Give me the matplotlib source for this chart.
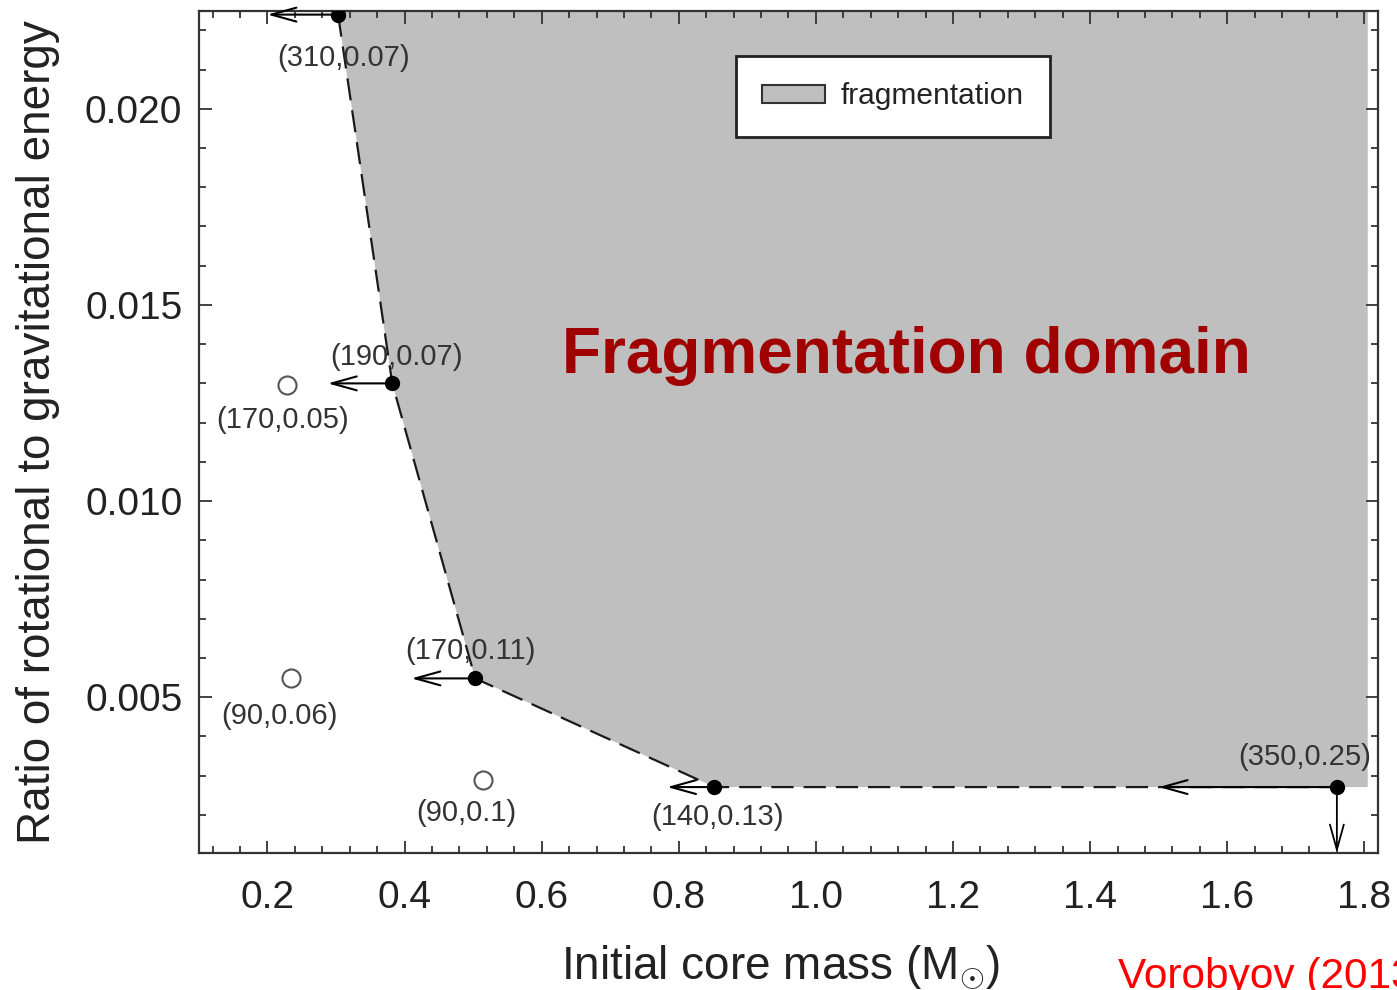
import matplotlib
matplotlib.use('Agg')
import matplotlib.pyplot as plt
from matplotlib import ticker
from matplotlib.patches import Patch

plt.rcParams['font.family'] = ['Liberation Sans', 'DejaVu Sans']
plt.rcParams['mathtext.fontset'] = 'custom'
plt.rcParams['mathtext.rm'] = 'Liberation Sans'

# models on the fragmentation boundary (filled) and non-fragmenting models (open)
boundary_mass = [0.303, 0.382, 0.503, 0.852, 1.760]
boundary_ratio = [0.0224, 0.0130, 0.00548, 0.00271, 0.00271]
boundary_labels = ['(310,0.07)', '(190,0.07)', '(170,0.11)', '(140,0.13)', '(350,0.25)']
arrow_tip_mass = [0.200, 0.288, 0.410, 0.783, 1.500]

stable_mass = [0.229, 0.235, 0.515]
stable_ratio = [0.01296, 0.00550, 0.00288]
stable_labels = ['(170,0.05)', '(90,0.06)', '(90,0.1)']

XMIN, XMAX = 0.1, 1.82
YMIN, YMAX = 0.00103, 0.0225
FILL_RIGHT = 1.805
GRAY = '#BFBFBF'

fig = plt.figure(figsize=(13.97, 9.9), dpi=100)
ax = fig.add_axes([0.1424, 0.1384, 0.8440, 0.8508])

# shaded domain: from the top edge down along the boundary, then out to the right
fill_x = [boundary_mass[0]] + boundary_mass + [FILL_RIGHT, FILL_RIGHT]
fill_y = [YMAX] + boundary_ratio + [boundary_ratio[-1], YMAX]
ax.fill(fill_x, fill_y, color=GRAY, lw=0, zorder=0)

ax.plot(boundary_mass, boundary_ratio, color='#1a1a1a', lw=1.6, ls=(0, (10, 4.5)), zorder=2)

arrow_style = '->,head_length=0.9,head_width=0.25'
for m, r, tip in zip(boundary_mass, boundary_ratio, arrow_tip_mass):
    ax.annotate('', xy=(tip, r), xytext=(m, r),
                arrowprops=dict(arrowstyle=arrow_style, lw=1.5, color='black',
                                shrinkA=0, shrinkB=0, mutation_scale=20), zorder=3)
# last model also only gives an upper limit on the energy ratio
ax.annotate('', xy=(boundary_mass[-1], YMIN), xytext=(boundary_mass[-1], boundary_ratio[-1]),
            arrowprops=dict(arrowstyle=arrow_style, lw=1.3, color='black',
                            shrinkA=0, shrinkB=0, mutation_scale=20), zorder=3)

ax.plot(boundary_mass, boundary_ratio, 'o', color='black', ms=10, zorder=4)
ax.plot(stable_mass, stable_ratio, 'o', mfc='none', mec='#555555', mew=1.5, ms=13, zorder=4)

boundary_offsets = [(4.3, -31), (2.9, 18.7), (-3.6, 19.4), (2.2, -21.6), (-23, 21.6)]
stable_offsets = [(-3.6, -25.2), (-8.6, -27.4), (-12.2, -23.8)]
for m, r, lab, off in zip(boundary_mass + stable_mass, boundary_ratio + stable_ratio,
                          boundary_labels + stable_labels, boundary_offsets + stable_offsets):
    ax.annotate(lab, xy=(m, r), xytext=off, textcoords='offset points',
                ha='center', va='center', fontsize=21, color='#333333', zorder=5)

ax.text(0.630, 0.01327, 'Fragmentation domain', fontsize=46, fontweight='bold',
        color='#A00000', ha='left', va='baseline', zorder=5)

leg = ax.legend(handles=[Patch(facecolor=GRAY, edgecolor='#333333', lw=1.5)],
                labels=['fragmentation'], loc='upper left',
                bbox_to_anchor=(0.4551, 0.9462), borderaxespad=0, fontsize=21.5,
                handlelength=2.1, handleheight=0.55, handletextpad=0.55,
                borderpad=0.88, fancybox=False, framealpha=1, edgecolor='#222222')
leg.get_frame().set_linewidth(2)
for t in leg.get_texts():
    t.set_color('#222222')

ax.set_xlim(XMIN, XMAX)
ax.set_ylim(YMIN, YMAX)
ax.xaxis.set_major_locator(ticker.MultipleLocator(0.2))
ax.xaxis.set_minor_locator(ticker.MultipleLocator(0.04))
ax.yaxis.set_major_locator(ticker.MultipleLocator(0.005))
ax.yaxis.set_minor_locator(ticker.MultipleLocator(0.001))
ax.xaxis.set_major_formatter(ticker.FormatStrFormatter('%.1f'))
ax.yaxis.set_major_formatter(ticker.FormatStrFormatter('%.3f'))

ax.tick_params(which='both', direction='in', top=True, right=True, color='#333333',
               width=1.3, labelsize=28, labelcolor='#222222')
ax.tick_params(which='major', length=9)
ax.tick_params(which='minor', length=5)
ax.tick_params(axis='x', pad=19.5)
ax.tick_params(axis='y', pad=12)
for s in ax.spines.values():
    s.set_color('#333333')
    s.set_linewidth(1.6)

ax.set_xlabel(r'Initial core mass (M$_{\odot}$)', fontsize=33, color='#222222')
ax.xaxis.set_label_coords(0.4935, -0.107)
ax.set_ylabel('Ratio of rotational to gravitational energy', fontsize=33, color='#222222',
              family=['Liberation Sans Narrow', 'Liberation Sans'])
ax.yaxis.set_label_coords(-0.118, 0.5)

fig.text(1118 / 1397, 0.002, 'Vorobyov (2013)', color='red', fontsize=30.5, va='baseline')

plt.savefig('out.png', dpi=100)
